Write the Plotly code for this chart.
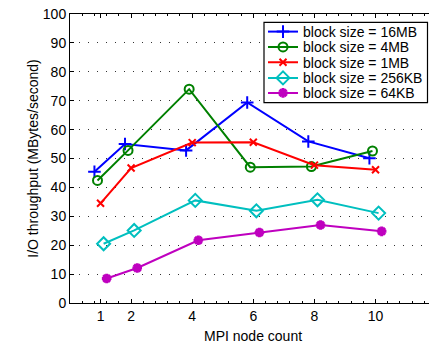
import plotly.graph_objects as go

node_counts = [1, 2, 4, 6, 8, 10]
series_names = ["block size = 16MB", "block size = 4MB", "block size = 1MB",
                "block size = 256KB", "block size = 64KB"]
thr_16MB = [45.4, 55.0, 52.8, 69.4, 55.9, 50.1]
thr_4MB = [42.4, 52.8, 74.0, 47.0, 47.2, 52.6]
thr_1MB = [34.5, 46.7, 55.5, 55.6, 47.7, 46.1]
thr_256KB = [20.5, 25.1, 35.5, 31.9, 35.7, 31.1]
thr_64KB = [8.5, 12.1, 21.7, 24.4, 27.0, 24.8]
x_tick_vals = [1, 2, 4, 6, 8, 10]
y_tick_vals = [0, 10, 20, 30, 40, 50, 60, 70, 80, 90, 100]

series = [thr_16MB, thr_4MB, thr_1MB, thr_256KB, thr_64KB]
offsets = [-0.2, -0.1, 0.0, 0.1, 0.2]
colors = ["#0000FF", "#008000", "#FF0000", "#00BFBF", "#BF00BF"]
symbols = ["cross-thin-open", "circle-open", "x-thin-open", "diamond-open", "asterisk-open"]
sizes = [9, 9, 7, 10, 8]
mlw = [2, 2, 2, 2, 3]

FONT = "Liberation Sans, Arial, Helvetica, sans-serif"

# the page body margin is removed (post_script), so figure px == page px
W, H = 429, 345
L, T, B = 70, 14, 42
PW, PH = W - L, H - T - B

def px_x(page_px):
    return (page_px - L) / PW

def px_y(page_py):
    return (H - B - page_py) / PH

row_y = [32.0, 47.3, 62.7, 78.3, 93.3]

fig = go.Figure()
legend_cfg = {}
for i, (name, ys, off, c, s, sz, lw) in enumerate(zip(series_names, series, offsets, colors, symbols, sizes, mlw)):
    lg = "legend" if i == 0 else f"legend{i + 1}"
    fig.add_trace(go.Scatter(
        x=[n + off for n in node_counts], y=ys, name=name,
        mode="lines+markers", legend=lg,
        line=dict(color=c, width=2),
        marker=dict(symbol=s, size=sz, color=c, line=dict(color=c, width=lw)),
    ))
    legend_cfg[lg] = dict(x=px_x(263), y=px_y(row_y[i]), xanchor="left", yanchor="middle",
                          bgcolor="rgba(0,0,0,0)", borderwidth=0,
                          font=dict(family=FONT, size=14, color="black"), itemwidth=30)

fig.update_layout(
    width=W, height=H,
    margin=dict(l=L, r=0, t=T, b=B),
    paper_bgcolor="white", plot_bgcolor="white",
    font=dict(family=FONT, size=14, color="black"),
    showlegend=True,
    xaxis=dict(range=[0, 11.75], tickvals=x_tick_vals, ticks="inside", ticklen=4,
               tickcolor="black", showline=True, linecolor="black", linewidth=1,
               mirror="ticks", showgrid=False, zeroline=False, automargin=False,
               tickfont=dict(size=14), ticklabeloverflow="allow",
               minor=dict(tick0=0, dtick=0.4, ticks="inside", ticklen=2, tickcolor="black", showgrid=False)),
    yaxis=dict(range=[0, 100], tickvals=y_tick_vals, ticks="inside", ticklen=4,
               tickcolor="black", showline=True, linecolor="black", linewidth=1,
               mirror=False, showgrid=True, gridcolor="#333333", gridwidth=1,
               griddash="1px,8px", zeroline=False, tickfont=dict(size=14), automargin=False,
               ticklabeloverflow="allow",
               title=dict(text="I/O throughput (MBytes/second)", font=dict(size=14), standoff=0)),
    **legend_cfg,
)
fig.add_shape(type="rect", xref="paper", yref="paper",
              x0=px_x(264), x1=px_x(427.5), y0=px_y(102.7), y1=px_y(22.3),
              line=dict(color="black", width=1.2), fillcolor="white", layer="above")
fig.add_annotation(x=6, y=0, xref="x", yref="paper", yanchor="top", yshift=-23,
                   text="MPI node count", showarrow=False, font=dict(size=14))

fig.write_html("out.html", config={"displayModeBar": False},
               post_script="document.body.style.margin='0px';")
